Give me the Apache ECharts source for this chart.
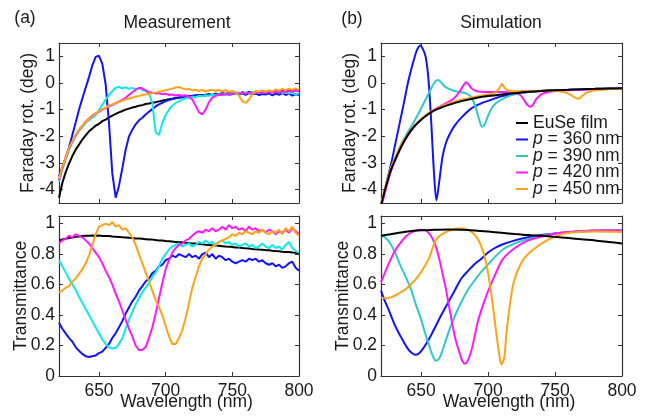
<!DOCTYPE html>
<html><head><meta charset="utf-8">
<script src="https://cdn.jsdelivr.net/npm/echarts@6/dist/echarts.min.js"></script>
<style>html,body{margin:0;padding:0;background:#fff}#c{width:650px;height:416px}</style>
</head><body><div id="c"></div>
<script>
// ---------- tick labels ----------
const xTicks = [650, 700, 750, 800];
const farTicks = [-4, -3, -2, -1, 0, 1];
const transTicks = [0, 0.2, 0.4, 0.6, 0.8, 1];

// ---------- series names ----------
const seriesNames = ['EuSe film', 'p = 360\u2009nm', 'p = 390\u2009nm', 'p = 420\u2009nm', 'p = 450\u2009nm'];

// ---------- measurement wavelengths (nm) ----------
const wlMeas = [620,622.5,625,627.5,630,632.5,635,637.5,640,642.5,645,647.5,650,652.5,655,657.5,660,662.5,665,667.5,
670,672.5,675,677.5,680,682.5,685,687.5,690,692.5,695,697.5,700,702.5,705,707.5,710,712.5,715,717.5,
720,722.5,725,727.5,730,732.5,735,737.5,740,742.5,745,747.5,750,752.5,755,757.5,760,762.5,765,767.5,
770,772.5,775,777.5,780,782.5,785,787.5,790,792.5,795,797.5,800];

// ---------- measurement: Faraday rotation (deg) ----------
const measFarBlack = [-4.30,-3.75,-3.35,-3.02,-2.74,-2.50,-2.31,-2.12,-1.96,-1.81,
-1.71,-1.60,-1.53,-1.43,-1.37,-1.29,-1.22,-1.16,-1.10,-1.05,
-1.00,-0.96,-0.92,-0.89,-0.85,-0.83,-0.79,-0.77,-0.74,-0.72,
-0.69,-0.66,-0.64,-0.61,-0.59,-0.56,-0.54,-0.53,-0.50,-0.52,
-0.48,-0.47,-0.45,-0.47,-0.44,-0.42,-0.45,-0.40,-0.42,-0.38,
-0.41,-0.37,-0.40,-0.36,-0.39,-0.35,-0.38,-0.34,-0.37,-0.33,
-0.36,-0.32,-0.35,-0.31,-0.34,-0.30,-0.34,-0.29,-0.33,-0.28,
-0.31,-0.27,-0.30];
const measFarBlue = [-3.50,-3.15,-2.80,-2.42,-1.95,-1.48,-1.00,-0.58,-0.18,0.22,
0.66,0.98,1.02,0.72,-0.05,-1.50,-3.40,-4.30,-3.85,-3.20,
-2.50,-2.00,-1.75,-1.55,-1.40,-1.30,-1.18,-1.08,-0.98,-0.88,
-0.80,-0.74,-0.68,-0.64,-0.60,-0.57,-0.55,-0.52,-0.50,-0.48,
-0.50,-0.46,-0.48,-0.45,-0.47,-0.44,-0.46,-0.42,-0.45,-0.43,
-0.40,-0.44,-0.41,-0.39,-0.43,-0.40,-0.44,-0.38,-0.42,-0.40,
-0.45,-0.41,-0.43,-0.39,-0.46,-0.40,-0.44,-0.38,-0.45,-0.40,
-0.47,-0.42,-0.45];
const measFarCyan = [-3.70,-3.25,-2.85,-2.50,-2.22,-2.00,-1.80,-1.65,-1.50,-1.40,
-1.30,-1.20,-1.02,-0.82,-0.62,-0.45,-0.30,-0.18,-0.15,-0.20,
-0.16,-0.22,-0.18,-0.24,-0.20,-0.26,-0.30,-0.40,-0.75,-1.85,
-1.95,-1.50,-1.20,-1.00,-0.85,-0.75,-0.68,-0.62,-0.58,-0.55,
-0.52,-0.53,-0.48,-0.50,-0.46,-0.48,-0.44,-0.46,-0.42,-0.44,
-0.40,-0.43,-0.38,-0.41,-0.37,-0.40,-0.35,-0.38,-0.34,-0.37,
-0.32,-0.36,-0.31,-0.35,-0.30,-0.34,-0.29,-0.38,-0.33,-0.40,
-0.35,-0.45,-0.38];
const measFarMagenta = [-3.65,-3.20,-2.82,-2.48,-2.20,-1.96,-1.77,-1.60,-1.45,-1.33,
-1.22,-1.14,-1.08,-1.00,-0.94,-0.88,-0.82,-0.76,-0.70,-0.63,
-0.55,-0.45,-0.35,-0.25,-0.18,-0.20,-0.28,-0.35,-0.36,-0.40,
-0.38,-0.42,-0.40,-0.45,-0.43,-0.47,-0.45,-0.48,-0.46,-0.52,
-0.62,-0.85,-1.10,-1.18,-1.00,-0.72,-0.55,-0.48,-0.45,-0.42,
-0.44,-0.40,-0.42,-0.38,-0.41,-0.37,-0.40,-0.36,-0.39,-0.35,
-0.38,-0.34,-0.37,-0.33,-0.36,-0.32,-0.35,-0.31,-0.34,-0.30,
-0.33,-0.29,-0.31];
const measFarOrange = [-3.60,-3.15,-2.80,-2.45,-2.18,-1.95,-1.76,-1.60,-1.47,-1.35,
-1.24,-1.14,-1.06,-0.98,-0.92,-0.85,-0.80,-0.75,-0.71,-0.66,
-0.62,-0.58,-0.55,-0.51,-0.49,-0.45,-0.43,-0.40,-0.38,-0.36,
-0.33,-0.30,-0.27,-0.24,-0.21,-0.17,-0.15,-0.20,-0.24,-0.22,
-0.28,-0.25,-0.30,-0.26,-0.32,-0.28,-0.25,-0.30,-0.26,-0.31,
-0.27,-0.33,-0.30,-0.35,-0.48,-0.68,-0.75,-0.62,-0.42,-0.30,
-0.32,-0.28,-0.33,-0.27,-0.31,-0.24,-0.29,-0.22,-0.27,-0.21,
-0.26,-0.20,-0.25];

// ---------- measurement: transmittance ----------
const measTBlack = [0.890,0.896,0.900,0.906,0.909,0.913,0.915,0.919,0.920,0.921,
0.922,0.920,0.922,0.919,0.918,0.918,0.915,0.914,0.913,0.910,
0.909,0.907,0.906,0.903,0.902,0.900,0.898,0.896,0.895,0.892,
0.890,0.889,0.886,0.885,0.882,0.880,0.877,0.877,0.874,0.872,
0.870,0.869,0.866,0.865,0.862,0.860,0.858,0.857,0.854,0.852,
0.850,0.849,0.846,0.844,0.843,0.840,0.838,0.837,0.834,0.832,
0.830,0.829,0.826,0.825,0.822,0.820,0.819,0.816,0.814,0.813,
0.810,0.808,0.806];
const measTBlue = [0.35,0.31,0.28,0.25,0.225,0.19,0.165,0.145,0.13,0.125,
0.13,0.135,0.15,0.16,0.185,0.21,0.25,0.28,0.32,0.36,
0.41,0.45,0.49,0.52,0.56,0.59,0.62,0.64,0.675,0.69,
0.72,0.73,0.76,0.77,0.79,0.78,0.80,0.79,0.78,0.80,
0.78,0.79,0.77,0.80,0.81,0.78,0.80,0.77,0.79,0.78,
0.76,0.77,0.75,0.74,0.75,0.76,0.75,0.77,0.76,0.77,
0.75,0.76,0.74,0.73,0.74,0.72,0.73,0.71,0.72,0.74,
0.75,0.71,0.69];
const measTCyan = [0.76,0.72,0.68,0.64,0.60,0.565,0.52,0.48,0.44,0.40,
0.36,0.32,0.28,0.24,0.21,0.19,0.18,0.185,0.21,0.25,
0.31,0.37,0.42,0.47,0.51,0.55,0.58,0.61,0.65,0.68,
0.72,0.77,0.80,0.83,0.85,0.86,0.87,0.85,0.86,0.87,
0.85,0.86,0.88,0.87,0.89,0.87,0.88,0.86,0.88,0.89,
0.87,0.88,0.86,0.87,0.85,0.86,0.87,0.85,0.86,0.84,
0.85,0.87,0.85,0.84,0.86,0.84,0.85,0.83,0.86,0.88,
0.84,0.82,0.81];
const measTMagenta = [0.87,0.89,0.90,0.92,0.91,0.93,0.92,0.91,0.89,0.87,
0.84,0.81,0.78,0.74,0.69,0.65,0.60,0.54,0.49,0.43,
0.37,0.31,0.26,0.20,0.17,0.17,0.19,0.25,0.32,0.41,
0.51,0.61,0.70,0.76,0.81,0.84,0.86,0.87,0.89,0.90,
0.92,0.94,0.95,0.94,0.96,0.95,0.97,0.95,0.96,0.98,
0.96,0.99,0.97,0.98,0.96,0.97,0.95,0.98,0.96,0.97,
0.95,0.96,0.94,0.96,0.95,0.93,0.95,0.94,0.96,0.94,
0.97,0.95,0.93];
const measTOrange = [0.55,0.56,0.58,0.59,0.62,0.64,0.67,0.70,0.74,0.79,
0.86,0.93,0.98,0.99,1.00,0.99,1.01,0.98,0.99,0.96,
0.97,0.94,0.91,0.86,0.80,0.74,0.68,0.62,0.56,0.50,
0.45,0.40,0.33,0.26,0.21,0.21,0.25,0.30,0.38,0.48,
0.58,0.65,0.72,0.77,0.80,0.83,0.85,0.86,0.88,0.89,
0.90,0.91,0.93,0.92,0.94,0.93,0.95,0.94,0.93,0.95,
0.94,0.96,0.94,0.93,0.95,0.94,0.96,0.93,0.97,0.95,
0.98,0.94,0.92];

// ---------- simulation: Faraday rotation (deg) ----------
const simFarBlackWl = [620,622.5,625,627.5,630,635,640,645,650,655,660,665,670,680,690,700,710,720,730,740,750,760,770,780,790,800];
const simFarBlack   = [-4.6,-4.1,-3.65,-3.25,-2.95,-2.4,-1.95,-1.62,-1.38,-1.18,-1.03,-0.92,-0.83,-0.68,-0.57,-0.49,-0.43,-0.38,-0.33,-0.3,-0.27,-0.25,-0.23,-0.22,-0.21,-0.2];
const simFarBlueWl = [620,622.5,625,627.5,630,632.5,635,637.5,640,642.5,645,647,649.3,651.5,653.5,655.5,657.5,659.5,661.4,663.5,666,668.5,671,675,680,687.5,695,700,710,720,730,740,750,760,770,780,790,800];
const simFarBlue   = [-4.6,-4.1,-3.55,-3.05,-2.45,-1.85,-1.25,-0.65,-0.02,0.5,0.95,1.25,1.41,1.25,0.95,0.1,-1.45,-3.3,-4.4,-3.7,-2.75,-2.25,-1.95,-1.6,-1.3,-0.95,-0.76,-0.67,-0.5,-0.4,-0.34,-0.3,-0.27,-0.25,-0.23,-0.22,-0.21,-0.2];
const simFarCyanWl = [620,622.5,625,627.5,630,635,640,643,646,649,652,655,658,660.5,662.5,664.5,667,670,675,680,684,687,689.5,691.5,693.5,695.5,697.5,700,703,706,710,715,720,730,740,750,760,770,780,790,800];
const simFarCyan   = [-4.6,-4.1,-3.63,-3.2,-2.88,-2.3,-1.85,-1.6,-1.33,-1.05,-0.75,-0.45,-0.15,0.05,0.11,0.05,-0.1,-0.2,-0.3,-0.35,-0.4,-0.5,-0.75,-1.05,-1.4,-1.64,-1.55,-1.22,-0.92,-0.75,-0.62,-0.5,-0.42,-0.33,-0.29,-0.27,-0.25,-0.23,-0.22,-0.21,-0.2];
const simFarMagentaWl = [620,622.5,625,627.5,630,635,640,645,650,655,660,665,670,673,676,679,681.5,683.5,685.5,688,691,695,700,710,720,724,727,729.5,731.5,733.5,736,740,745,750,760,770,780,790,800];
const simFarMagenta   = [-4.7,-4.2,-3.72,-3.3,-2.97,-2.4,-1.98,-1.64,-1.37,-1.16,-0.99,-0.85,-0.72,-0.63,-0.5,-0.3,-0.1,0.03,-0.05,-0.22,-0.3,-0.33,-0.34,-0.34,-0.36,-0.45,-0.65,-0.83,-0.89,-0.82,-0.6,-0.42,-0.34,-0.3,-0.27,-0.25,-0.23,-0.22,-0.21];
const simFarOrangeWl = [620,622.5,625,627.5,630,635,640,645,650,655,660,665,670,680,690,700,705,707.5,709,710.5,712,714,717,720,730,740,750,755,760,764,767,768.5,770,773,777,782,790,800];
const simFarOrange   = [-4.55,-4.05,-3.58,-3.18,-2.87,-2.32,-1.92,-1.6,-1.35,-1.15,-1.0,-0.88,-0.78,-0.63,-0.52,-0.43,-0.36,-0.26,-0.14,-0.04,-0.15,-0.26,-0.3,-0.31,-0.3,-0.29,-0.3,-0.33,-0.4,-0.52,-0.59,-0.57,-0.5,-0.38,-0.3,-0.26,-0.23,-0.21];

// ---------- simulation: transmittance ----------
const simTBlackWl = [620,630,640,650,660,670,680,690,700,710,720,730,740,750,760,770,780,790,800];
const simTBlack   = [0.92,0.935,0.948,0.956,0.96,0.962,0.96,0.955,0.948,0.94,0.932,0.925,0.92,0.913,0.905,0.897,0.89,0.88,0.87];
const simTBlueWl = [620,622.5,625,627.5,630,632.5,635,637.5,640,642.5,645.3,648,651,654,657.3,661,665,670,675,680,685,690,695,700,705,711,720,730,740,750,760,770,780,790,800];
const simTBlue   = [0.56,0.5,0.45,0.395,0.34,0.295,0.255,0.215,0.18,0.155,0.14,0.145,0.175,0.215,0.266,0.33,0.4,0.48,0.56,0.64,0.69,0.735,0.77,0.81,0.84,0.865,0.89,0.91,0.925,0.935,0.945,0.95,0.953,0.955,0.955];
const simTCyanWl = [620,623,627.3,631,634.8,638.5,642.3,646,649.8,653,656,658.5,661,663.5,666,669,672.2,676,679.7,684.5,689.7,695,699.7,705,711,720,730,740,750,760,770,780,790,800];
const simTCyan   = [0.92,0.91,0.865,0.8,0.72,0.65,0.57,0.47,0.375,0.28,0.2,0.135,0.1,0.115,0.17,0.25,0.33,0.41,0.48,0.56,0.625,0.685,0.73,0.78,0.83,0.87,0.9,0.92,0.935,0.945,0.95,0.955,0.955,0.955];
const simTMagentaWl = [620,623,627.3,631,634.8,638.5,642.3,646,649.8,653.5,657.3,660.5,663.5,666,668.5,671,673.5,676,678.5,680.7,682.7,684.8,687.2,689.7,692.2,696,699.7,705,711,720,730,740,750,760,770,780,790,800];
const simTMagenta   = [0.614,0.68,0.767,0.83,0.876,0.915,0.94,0.955,0.96,0.955,0.92,0.86,0.77,0.67,0.57,0.45,0.33,0.23,0.157,0.1,0.08,0.1,0.157,0.25,0.353,0.46,0.55,0.66,0.767,0.84,0.89,0.915,0.935,0.945,0.95,0.955,0.955,0.955];
const simTOrangeWl = [620,624,627.3,631,634.8,638.5,642.3,646,649.8,653,655.5,657,658.5,660.8,664,668.3,672.5,677.3,681.5,686,689,692.2,694.7,697.2,699.7,702.2,704,706,708,710,712,713.7,716,718.7,722,726,731,736,742,748.6,755,761,770,780,790,800];
const simTOrange   = [0.516,0.51,0.516,0.53,0.55,0.57,0.6,0.635,0.68,0.725,0.765,0.8,0.84,0.89,0.92,0.944,0.958,0.968,0.968,0.955,0.935,0.9,0.855,0.79,0.69,0.55,0.43,0.29,0.16,0.075,0.12,0.28,0.45,0.6,0.69,0.76,0.81,0.845,0.88,0.91,0.93,0.94,0.945,0.948,0.947,0.945];

// ---------- rendering ----------
const FF = '"Liberation Sans", Arial, Helvetica, sans-serif';
const FS = 17.5;
const TXT = '#1a1a1a';
const AX = '#333';
const C = { black:'#000000', blue:'#1414f0', cyanM:'#10e8e8', cyanS:'#30c8c8', magenta:'#ff1aff', orange:'#ffa31a' };

const grids = [
  { left: 59,  top: 43,  width: 240, height: 160 },
  { left: 59,  top: 216, width: 240, height: 160 },
  { left: 381, top: 43,  width: 241, height: 160 },
  { left: 381, top: 216, width: 241, height: 160 }
];
const isFar = [true, false, true, false];

const xAxis = [], yAxis = [];
grids.forEach((g, gi) => {
  const bottomLabels = !isFar[gi];
  ['bottom', 'top'].forEach((pos, k) => {
    xAxis.push({
      type: 'value', gridIndex: gi, position: pos, min: 620, max: 800,
      axisLine: { show: true, onZero: false, lineStyle: { color: AX, width: 1.2 } },
      axisTick: { show: true, inside: true, length: 4, customValues: xTicks, lineStyle: { color: AX, width: 1 } },
      axisLabel: { show: bottomLabels && k === 0, customValues: xTicks, margin: 6, fontSize: FS, fontFamily: FF, color: TXT },
      splitLine: { show: false },
      name: (bottomLabels && k === 0) ? 'Wavelength (nm)' : '',
      nameLocation: 'middle', nameGap: 17, nameMoveOverlap: false,
      nameTextStyle: { fontSize: FS, fontFamily: FF, color: TXT, padding: [0, 0, 0, 15] }
    });
  });
  ['left', 'right'].forEach((pos, k) => {
    const ticks = isFar[gi] ? farTicks : transTicks;
    yAxis.push({
      type: 'value', gridIndex: gi, position: pos,
      min: isFar[gi] ? -4.5 : 0, max: isFar[gi] ? 1.5 : 1.05,
      axisLine: { show: true, onZero: false, lineStyle: { color: AX, width: 1.2 } },
      axisTick: { show: true, inside: true, length: 4, customValues: ticks, lineStyle: { color: AX, width: 1 } },
      axisLabel: { show: k === 0, customValues: ticks, margin: 4, fontSize: FS, fontFamily: FF, color: TXT },
      splitLine: { show: false },
      name: k === 0 ? (isFar[gi] ? 'Faraday rot. (deg)' : 'Transmittance') : '',
      nameLocation: 'middle', nameGap: isFar[gi] ? 22 : 29, nameMoveOverlap: false,
      nameTextStyle: { fontSize: FS, fontFamily: FF, color: TXT }
    });
  });
});

function zip(xs, ys) { return xs.map((x, i) => [x, ys[i]]); }
function line(name, color, data, gi, smooth) {
  return {
    type: 'line', name: name, xAxisIndex: gi * 2, yAxisIndex: gi * 2,
    data: data, showSymbol: false, symbol: 'none', smooth: smooth ? 0.3 : false,
    clip: true, animation: false,
    lineStyle: { color: color, width: 2 }, itemStyle: { color: color }
  };
}

const series = [
  // simulation Faraday (grid 2)
  line(seriesNames[1], C.blue,    zip(simFarBlueWl, simFarBlue), 2, true),
  line(seriesNames[2], C.cyanS,   zip(simFarCyanWl, simFarCyan), 2, true),
  line(seriesNames[3], C.magenta, zip(simFarMagentaWl, simFarMagenta), 2, true),
  line(seriesNames[4], C.orange,  zip(simFarOrangeWl, simFarOrange), 2, true),
  line(seriesNames[0], C.black,   zip(simFarBlackWl, simFarBlack), 2, true),
  // simulation transmittance (grid 3)
  line(seriesNames[1], C.blue,    zip(simTBlueWl, simTBlue), 3, true),
  line(seriesNames[2], C.cyanS,   zip(simTCyanWl, simTCyan), 3, true),
  line(seriesNames[3], C.magenta, zip(simTMagentaWl, simTMagenta), 3, true),
  line(seriesNames[4], C.orange,  zip(simTOrangeWl, simTOrange), 3, true),
  line(seriesNames[0], C.black,   zip(simTBlackWl, simTBlack), 3, true),
  // measurement Faraday (grid 0)
  line(seriesNames[0], C.black,   zip(wlMeas, measFarBlack), 0, false),
  line(seriesNames[1], C.blue,    zip(wlMeas, measFarBlue), 0, false),
  line(seriesNames[2], C.cyanM,   zip(wlMeas, measFarCyan), 0, false),
  line(seriesNames[3], C.magenta, zip(wlMeas, measFarMagenta), 0, false),
  line(seriesNames[4], C.orange,  zip(wlMeas, measFarOrange), 0, false),
  // measurement transmittance (grid 1)
  line(seriesNames[0], C.black,   zip(wlMeas, measTBlack), 1, false),
  line(seriesNames[1], C.blue,    zip(wlMeas, measTBlue), 1, false),
  line(seriesNames[2], C.cyanM,   zip(wlMeas, measTCyan), 1, false),
  line(seriesNames[3], C.magenta, zip(wlMeas, measTMagenta), 1, false),
  line(seriesNames[4], C.orange,  zip(wlMeas, measTOrange), 1, false)
];

const txt = (t, x, y) => ({
  type: 'text', x: x, y: y,
  style: { text: t, fontSize: FS, fontFamily: FF, fill: TXT, align: 'center', verticalAlign: 'middle' }
});

const chart = echarts.init(document.getElementById('c'), null, { renderer: 'canvas' });
chart.setOption({
  backgroundColor: '#ffffff',
  animation: false,
  grid: grids,
  xAxis: xAxis,
  yAxis: yAxis,
  legend: {
    data: seriesNames, orient: 'vertical', left: 511, top: 109,
    icon: 'rect', itemWidth: 12, itemHeight: 2, itemGap: -1.5, selectedMode: false,
    textStyle: {
      fontSize: FS, fontFamily: FF, color: TXT, lineHeight: 16,
      rich: {
        i: { fontStyle: 'italic', fontSize: FS, fontFamily: FF, color: TXT, lineHeight: 16 },
        t: { fontSize: FS, fontFamily: FF, color: TXT, lineHeight: 16 }
      }
    },
    formatter: n => n.charAt(0) === 'p' ? '{i|p}{t|' + n.slice(1) + '}' : n
  },
  graphic: [
    txt('(a)', 25, 18),
    txt('Measurement', 177, 23),
    txt('(b)', 352, 19),
    txt('Simulation', 501, 23)
  ],
  series: series
});
</script></body></html>
